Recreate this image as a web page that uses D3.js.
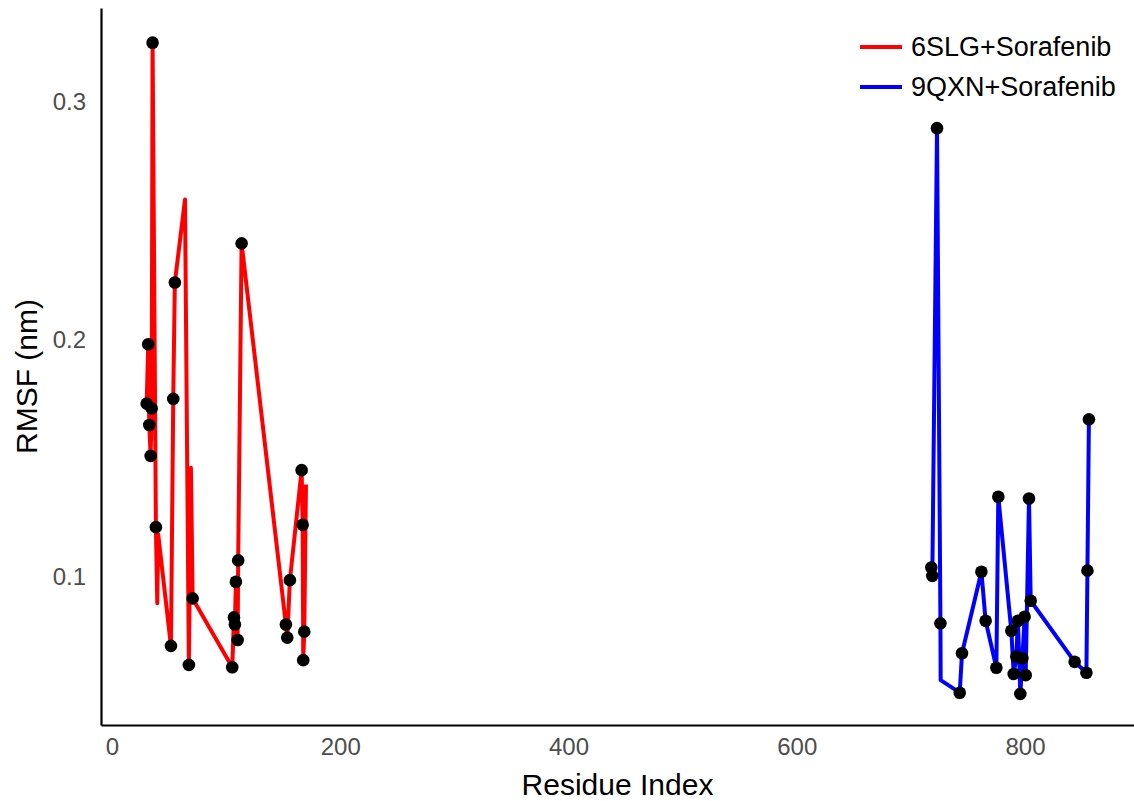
<!DOCTYPE html>
<html>
<head>
<meta charset="utf-8">
<script src="https://cdn.jsdelivr.net/npm/d3@7"></script>
<style>
  body { margin: 0; background: #fff; }
  svg { font-family: "Liberation Sans", Arial, sans-serif; }
</style>
</head>
<body>
<svg width="1134" height="801"></svg>
<script>
// 6SLG+Sorafenib line (residue, rmsf); hit = marker drawn
const redRes  = [30.4, 31.8, 32.7, 33.9, 34.8, 35.6, 38.5, 39.7, 40.5, 51.7, 53.7, 55.1, 64.0, 67.4, 69.2, 70.7,
                 105.4, 106.9, 107.7, 108.6, 110.1, 110.6, 113.6, 152.4, 153.6, 155.9, 166.2, 167.1, 167.6, 168.5, 170.0];
const redVal  = [0.173, 0.198, 0.164, 0.151, 0.171, 0.325, 0.121, 0.089, 0.118, 0.071, 0.175, 0.224, 0.259, 0.063, 0.146, 0.091,
                 0.062, 0.083, 0.080, 0.098, 0.0735, 0.107, 0.2405, 0.080, 0.0745, 0.0987, 0.145, 0.122, 0.065, 0.077, 0.139];
const redHit  = [1,1,1,1,1,1,1,0,0,1,1,1,0,1,0,1, 1,1,1,1,1,1,1,1,1,1,1,1,1,1,0];

// 9QXN+Sorafenib
const blueRes = [717.9, 718.8, 722.9, 725.9, 726.1, 742.8, 744.8, 761.8, 765.5, 774.9, 776.6, 788.0, 790.1, 792.4,
                 793.8, 795.9, 797.7, 799.7, 800.6, 803.5, 805.0, 843.5, 853.8, 854.7, 856.0];
const blueVal = [0.104, 0.1005, 0.289, 0.0805, 0.0566, 0.0513, 0.0679, 0.1022, 0.0816, 0.0618, 0.1338, 0.0774, 0.0592, 0.0665,
                 0.0816, 0.0508, 0.0658, 0.0833, 0.0587, 0.1331, 0.090, 0.0643, 0.0597, 0.1027, 0.1664];
const blueHit = [1,1,1,1,0,1,1,1,1,1,1,1,1,1,1,1,1,1,1,1,1,1,1,1,1];

const seriesNames = ["6SLG+Sorafenib", "9QXN+Sorafenib"];
const seriesColors = ["#ff0000", "#0000ff"];
const xTicks = [0, 200, 400, 600, 800];
const yTicks = [0.1, 0.2, 0.3];

const svg = d3.select("svg");
const mLeft = 101, mRight = 1134, mTop = 8, mBottom = 725;

const x = d3.scaleLinear().domain([-9.6, 895.5]).range([mLeft, mRight]);
const y = d3.scaleLinear().domain([0.0377, 0.3396]).range([mBottom, mTop]);

function toPts(res, val, hit) {
  return res.map((r, i) => ({x: r, y: val[i], hit: hit[i]}));
}
const series = [toPts(redRes, redVal, redHit), toPts(blueRes, blueVal, blueHit)];

const line = d3.line().x(d => x(d.x)).y(d => y(d.y));

series.forEach((pts, i) => {
  svg.append("path").datum(pts)
    .attr("d", line)
    .attr("fill", "none")
    .attr("stroke", seriesColors[i])
    .attr("stroke-width", 4)
    .attr("stroke-linejoin", "round");
});

series.forEach(pts => {
  svg.append("g").selectAll("circle")
    .data(pts.filter(d => d.hit))
    .join("circle")
    .attr("cx", d => x(d.x))
    .attr("cy", d => y(d.y))
    .attr("r", 6.3)
    .attr("fill", "#000");
});

// axes
const xAxis = svg.append("g").attr("transform", `translate(0,${mBottom})`)
  .call(d3.axisBottom(x).tickValues(xTicks).tickSize(0).tickPadding(13));
const yAxis = svg.append("g").attr("transform", `translate(${mLeft},0)`)
  .call(d3.axisLeft(y).tickValues(yTicks).tickSize(0).tickPadding(15).tickFormat(d3.format(".1f")));
[xAxis, yAxis].forEach(a => {
  a.select(".domain").attr("stroke", "#000").attr("stroke-width", 2.2);
  a.selectAll("text").attr("fill", "#4d4d4d").style("font-size", "24px");
});

svg.append("text")
  .attr("x", (mLeft + mRight) / 2).attr("y", 795)
  .attr("text-anchor", "middle")
  .style("font-size", "30px")
  .text("Residue Index");

svg.append("text")
  .attr("transform", `translate(37,${(mTop + mBottom) / 2 + 10}) rotate(-90)`)
  .attr("text-anchor", "middle")
  .style("font-size", "30px")
  .text("RMSF (nm)");

// legend
const legend = svg.append("g").attr("transform", "translate(860,47)");
seriesNames.forEach((name, i) => {
  const g = legend.append("g").attr("transform", `translate(0,${i * 40})`);
  g.append("line").attr("x1", 0).attr("x2", 42).attr("y1", 0).attr("y2", 0)
    .attr("stroke", seriesColors[i]).attr("stroke-width", 4);
  g.append("text").attr("x", 51).attr("y", 0).attr("dy", "0.35em")
    .style("font-size", "27px").attr("fill", "#000").text(name);
});
</script>
</body>
</html>
